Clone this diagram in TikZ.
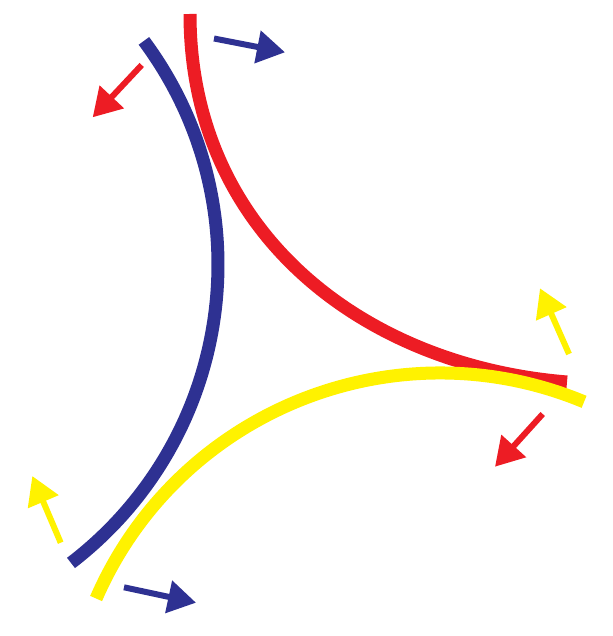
\documentclass[tikz,border=0pt]{standalone}
\usetikzlibrary{arrows.meta}
\definecolor{cred}{HTML}{ED1C24}
\definecolor{cblue}{HTML}{2E3192}
\definecolor{cyel}{HTML}{FFF200}
\begin{document}
\begin{tikzpicture}[x=1pt,y=-1pt,
  band/.style={line width=13pt, line cap=butt},
  push/.style={line width=6pt, line cap=butt, -{Triangle[length=28pt,width=32pt]}}]
\useasboundingbox (0,0) rectangle (612,636);
% curve end points
\coordinate (rs) at (190,14);
\coordinate (re) at (567,382);
\coordinate (bs) at (143.9,40.9);
\coordinate (ys) at (96.1,598.5);
% arrows: shaft start / tip
\coordinate (a1s) at (214,38.5);   \coordinate (a1e) at (285,52.3);
\coordinate (a2s) at (141.7,65);   \coordinate (a2e) at (92.7,117.3);
\coordinate (a3s) at (569,354);    \coordinate (a3e) at (540,288.3);
\coordinate (a4s) at (542.7,414);  \coordinate (a4e) at (495,466.7);
\coordinate (a5s) at (60.7,542.7); \coordinate (a5e) at (32.3,476);
\coordinate (a6s) at (124,587.3);  \coordinate (a6e) at (196,602.7);
% curves
\draw[band,cred] (rs) .. controls (190,230) and (360,365) .. (re);
\draw[band,cblue] (bs) arc[start angle=36.6,end angle=-52.5,radius=375.7pt];
\draw[band,cyel] (ys) arc[start angle=156.5,end angle=67.4,radius=375pt];
% arrows
\draw[push,cblue] (a1s) -- (a1e);
\draw[push,cred] (a2s) -- (a2e);
\draw[push,cyel] (a3s) -- (a3e);
\draw[push,cred] (a4s) -- (a4e);
\draw[push,cyel] (a5s) -- (a5e);
\draw[push,cblue] (a6s) -- (a6e);
\end{tikzpicture}
\end{document}
